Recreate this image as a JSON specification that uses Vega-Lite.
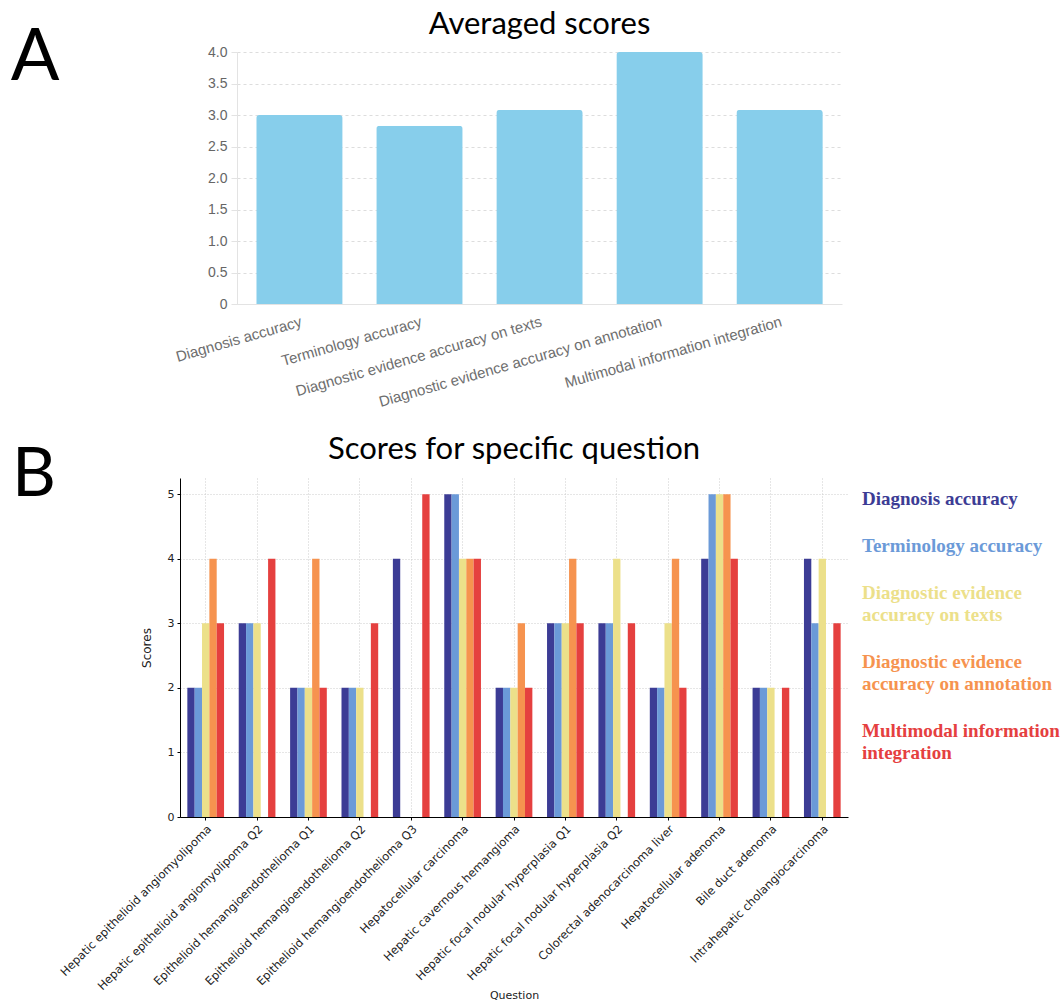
{
  "$schema": "https://vega.github.io/schema/vega-lite/v6.json",
  "background": "white",
  "padding": {"left": 10, "top": 9, "right": 0, "bottom": 0},
  "config": {"view": {"stroke": null}},
  "datasets": {
    "letters": [{"letter": "A"}, {"letter": "B"}],
    "avg": [
      {"metric": "Diagnosis accuracy", "score": 3.0},
      {"metric": "Terminology accuracy", "score": 2.83},
      {"metric": "Diagnostic evidence accuracy on texts", "score": 3.08},
      {"metric": "Diagnostic evidence accuracy on annotation", "score": 4.0},
      {"metric": "Multimodal information integration", "score": 3.08}
    ],
    "q": [
      {"question": "Hepatic epithelioid angiomyolipoma", "metric": "Diagnosis accuracy", "score": 2},
      {"question": "Hepatic epithelioid angiomyolipoma", "metric": "Terminology accuracy", "score": 2},
      {"question": "Hepatic epithelioid angiomyolipoma", "metric": "Diagnostic evidence accuracy on texts", "score": 3},
      {"question": "Hepatic epithelioid angiomyolipoma", "metric": "Diagnostic evidence accuracy on annotation", "score": 4},
      {"question": "Hepatic epithelioid angiomyolipoma", "metric": "Multimodal information integration", "score": 3},
      {"question": "Hepatic epithelioid angiomyolipoma Q2", "metric": "Diagnosis accuracy", "score": 3},
      {"question": "Hepatic epithelioid angiomyolipoma Q2", "metric": "Terminology accuracy", "score": 3},
      {"question": "Hepatic epithelioid angiomyolipoma Q2", "metric": "Diagnostic evidence accuracy on texts", "score": 3},
      {"question": "Hepatic epithelioid angiomyolipoma Q2", "metric": "Diagnostic evidence accuracy on annotation", "score": 0},
      {"question": "Hepatic epithelioid angiomyolipoma Q2", "metric": "Multimodal information integration", "score": 4},
      {"question": "Epithelioid hemangioendothelioma Q1", "metric": "Diagnosis accuracy", "score": 2},
      {"question": "Epithelioid hemangioendothelioma Q1", "metric": "Terminology accuracy", "score": 2},
      {"question": "Epithelioid hemangioendothelioma Q1", "metric": "Diagnostic evidence accuracy on texts", "score": 2},
      {"question": "Epithelioid hemangioendothelioma Q1", "metric": "Diagnostic evidence accuracy on annotation", "score": 4},
      {"question": "Epithelioid hemangioendothelioma Q1", "metric": "Multimodal information integration", "score": 2},
      {"question": "Epithelioid hemangioendothelioma Q2", "metric": "Diagnosis accuracy", "score": 2},
      {"question": "Epithelioid hemangioendothelioma Q2", "metric": "Terminology accuracy", "score": 2},
      {"question": "Epithelioid hemangioendothelioma Q2", "metric": "Diagnostic evidence accuracy on texts", "score": 2},
      {"question": "Epithelioid hemangioendothelioma Q2", "metric": "Diagnostic evidence accuracy on annotation", "score": 0},
      {"question": "Epithelioid hemangioendothelioma Q2", "metric": "Multimodal information integration", "score": 3},
      {"question": "Epithelioid hemangioendothelioma Q3", "metric": "Diagnosis accuracy", "score": 4},
      {"question": "Epithelioid hemangioendothelioma Q3", "metric": "Terminology accuracy", "score": 0},
      {"question": "Epithelioid hemangioendothelioma Q3", "metric": "Diagnostic evidence accuracy on texts", "score": 0},
      {"question": "Epithelioid hemangioendothelioma Q3", "metric": "Diagnostic evidence accuracy on annotation", "score": 0},
      {"question": "Epithelioid hemangioendothelioma Q3", "metric": "Multimodal information integration", "score": 5},
      {"question": "Hepatocellular carcinoma", "metric": "Diagnosis accuracy", "score": 5},
      {"question": "Hepatocellular carcinoma", "metric": "Terminology accuracy", "score": 5},
      {"question": "Hepatocellular carcinoma", "metric": "Diagnostic evidence accuracy on texts", "score": 4},
      {"question": "Hepatocellular carcinoma", "metric": "Diagnostic evidence accuracy on annotation", "score": 4},
      {"question": "Hepatocellular carcinoma", "metric": "Multimodal information integration", "score": 4},
      {"question": "Hepatic cavernous hemangioma", "metric": "Diagnosis accuracy", "score": 2},
      {"question": "Hepatic cavernous hemangioma", "metric": "Terminology accuracy", "score": 2},
      {"question": "Hepatic cavernous hemangioma", "metric": "Diagnostic evidence accuracy on texts", "score": 2},
      {"question": "Hepatic cavernous hemangioma", "metric": "Diagnostic evidence accuracy on annotation", "score": 3},
      {"question": "Hepatic cavernous hemangioma", "metric": "Multimodal information integration", "score": 2},
      {"question": "Hepatic focal nodular hyperplasia Q1", "metric": "Diagnosis accuracy", "score": 3},
      {"question": "Hepatic focal nodular hyperplasia Q1", "metric": "Terminology accuracy", "score": 3},
      {"question": "Hepatic focal nodular hyperplasia Q1", "metric": "Diagnostic evidence accuracy on texts", "score": 3},
      {"question": "Hepatic focal nodular hyperplasia Q1", "metric": "Diagnostic evidence accuracy on annotation", "score": 4},
      {"question": "Hepatic focal nodular hyperplasia Q1", "metric": "Multimodal information integration", "score": 3},
      {"question": "Hepatic focal nodular hyperplasia Q2", "metric": "Diagnosis accuracy", "score": 3},
      {"question": "Hepatic focal nodular hyperplasia Q2", "metric": "Terminology accuracy", "score": 3},
      {"question": "Hepatic focal nodular hyperplasia Q2", "metric": "Diagnostic evidence accuracy on texts", "score": 4},
      {"question": "Hepatic focal nodular hyperplasia Q2", "metric": "Diagnostic evidence accuracy on annotation", "score": 0},
      {"question": "Hepatic focal nodular hyperplasia Q2", "metric": "Multimodal information integration", "score": 3},
      {"question": "Colorectal adenocarcinoma liver", "metric": "Diagnosis accuracy", "score": 2},
      {"question": "Colorectal adenocarcinoma liver", "metric": "Terminology accuracy", "score": 2},
      {"question": "Colorectal adenocarcinoma liver", "metric": "Diagnostic evidence accuracy on texts", "score": 3},
      {"question": "Colorectal adenocarcinoma liver", "metric": "Diagnostic evidence accuracy on annotation", "score": 4},
      {"question": "Colorectal adenocarcinoma liver", "metric": "Multimodal information integration", "score": 2},
      {"question": "Hepatocellular adenoma", "metric": "Diagnosis accuracy", "score": 4},
      {"question": "Hepatocellular adenoma", "metric": "Terminology accuracy", "score": 5},
      {"question": "Hepatocellular adenoma", "metric": "Diagnostic evidence accuracy on texts", "score": 5},
      {"question": "Hepatocellular adenoma", "metric": "Diagnostic evidence accuracy on annotation", "score": 5},
      {"question": "Hepatocellular adenoma", "metric": "Multimodal information integration", "score": 4},
      {"question": "Bile duct adenoma", "metric": "Diagnosis accuracy", "score": 2},
      {"question": "Bile duct adenoma", "metric": "Terminology accuracy", "score": 2},
      {"question": "Bile duct adenoma", "metric": "Diagnostic evidence accuracy on texts", "score": 2},
      {"question": "Bile duct adenoma", "metric": "Diagnostic evidence accuracy on annotation", "score": 0},
      {"question": "Bile duct adenoma", "metric": "Multimodal information integration", "score": 2},
      {"question": "Intrahepatic cholangiocarcinoma", "metric": "Diagnosis accuracy", "score": 4},
      {"question": "Intrahepatic cholangiocarcinoma", "metric": "Terminology accuracy", "score": 3},
      {"question": "Intrahepatic cholangiocarcinoma", "metric": "Diagnostic evidence accuracy on texts", "score": 4},
      {"question": "Intrahepatic cholangiocarcinoma", "metric": "Diagnostic evidence accuracy on annotation", "score": 0},
      {"question": "Intrahepatic cholangiocarcinoma", "metric": "Multimodal information integration", "score": 3}
    ]
  },
  "spacing": 24,
  "resolve": {"legend": {"color": "independent"}},
  "vconcat": [
    {
      "spacing": 113,
      "hconcat": [
        {
          "width": 44,
          "height": 1,
          "data": {"name": "letters"},
          "transform": [{"filter": "datum.letter == 'A'"}],
          "mark": {"type": "text", "font": "Lato", "fontSize": 72, "fontWeight": "normal", "color": "black", "align": "center", "baseline": "alphabetic", "dx": -1, "dy": 27},
          "encoding": {"text": {"field": "letter"}}
        },
        {
          "title": {"text": "Averaged scores", "font": "Lato", "fontSize": 31, "fontWeight": "normal", "color": "black", "offset": 4, "anchor": "middle", "frame": "group"},
          "width": 605,
          "height": 252,
          "data": {"name": "avg"},
          "mark": {"type": "bar", "color": "#87ceeb", "cornerRadiusTopLeft": 3, "cornerRadiusTopRight": 3},
          "encoding": {
            "x": {"field": "metric", "type": "nominal", "sort": null,
              "scale": {"paddingInner": 0.28, "paddingOuter": 0.16},
              "axis": {"title": null, "labelAngle": -16, "labelAlign": "right", "labelBaseline": "top", "labelFont": "Liberation Sans", "labelFontSize": 15, "labelColor": "#6e6e6e", "ticks": false, "domainColor": "#e3e3e3", "labelPadding": 10, "labelLimit": 0}},
            "y": {"field": "score", "type": "quantitative",
              "scale": {"domain": [0, 4], "nice": false},
              "axis": {"title": null, "values": [0, 0.5, 1, 1.5, 2, 2.5, 3, 3.5, 4], "labelExpr": "datum.value == 0 ? '0' : format(datum.value, '.1f')", "gridDash": [3, 3], "gridColor": "#dddddd", "domainColor": "#e3e3e3", "tickColor": "#e3e3e3", "tickSize": 6, "labelFont": "Liberation Sans", "labelFontSize": 14, "labelColor": "#666", "labelPadding": 4}}
          }
        }
      ]
    },
    {
      "spacing": 0,
      "resolve": {"legend": {"color": "independent"}},
      "hconcat": [
        {
          "width": 44,
          "height": 1,
          "data": {"name": "letters"},
          "transform": [{"filter": "datum.letter == 'B'"}],
          "mark": {"type": "text", "font": "Lato", "fontSize": 68, "fontWeight": "normal", "color": "black", "align": "center", "baseline": "alphabetic", "dx": -2, "dy": 17},
          "encoding": {"text": {"field": "letter"}}
        },
        {
          "title": {"text": "Scores for specific question", "font": "Lato", "fontSize": 31, "fontWeight": "normal", "color": "black", "offset": 12, "anchor": "middle", "frame": "group"},
          "width": 668,
          "height": 339,
          "data": {"name": "q"},
          "mark": {"type": "bar"},
          "encoding": {
            "x": {"field": "question", "type": "nominal", "sort": null,
              "scale": {"paddingInner": 0, "paddingOuter": 0},
              "axis": {"title": "Question", "titleFont": "DejaVu Sans", "titleFontSize": 11, "titleFontWeight": "normal", "titleColor": "#222", "titlePadding": -3, "labelAngle": -45, "labelAlign": "right", "labelBaseline": "top", "labelFont": "DejaVu Sans", "labelFontSize": 11.5, "labelColor": "#222", "labelLimit": 0, "labelPadding": 3, "grid": true, "gridDash": [1, 2], "gridColor": "#cccccc", "domainColor": "black", "tickColor": "black", "tickSize": 3}},
            "xOffset": {"field": "metric", "type": "nominal",
              "sort": ["Diagnosis accuracy", "Terminology accuracy", "Diagnostic evidence accuracy on texts", "Diagnostic evidence accuracy on annotation", "Multimodal information integration"],
              "scale": {"paddingInner": 0, "paddingOuter": 2.5}},
            "y": {"field": "score", "type": "quantitative",
              "scale": {"domain": [0, 5.25], "nice": false},
              "axis": {"title": "Scores", "titleFont": "DejaVu Sans", "titleFontSize": 12, "titleFontWeight": "normal", "titleColor": "#222", "titlePadding": 14, "values": [0, 1, 2, 3, 4, 5], "gridDash": [1, 2], "gridColor": "#cccccc", "domainColor": "black", "tickColor": "black", "tickSize": 3, "labelFont": "DejaVu Sans", "labelFontSize": 11, "labelColor": "#222", "labelPadding": 3}},
            "color": {"field": "metric", "type": "nominal",
              "scale": {"domain": ["Diagnosis accuracy", "Terminology accuracy", "Diagnostic evidence accuracy on texts", "Diagnostic evidence accuracy on annotation", "Multimodal information integration"],
                "range": ["#3c3c95", "#6b9ad8", "#ece08a", "#f6934f", "#e5403f"]},
              "legend": {"title": null, "orient": "right", "offset": -16, "padding": 11, "symbolSize": 0, "symbolOpacity": 0, "symbolStrokeWidth": 0, "labelOffset": 0, "labelFont": "Liberation Serif", "labelFontSize": 19, "labelFontWeight": "bold", "labelLimit": 0, "rowPadding": 27,
                "labelExpr": "datum.label == 'Diagnostic evidence accuracy on texts' ? ['Diagnostic evidence', 'accuracy on texts'] : datum.label == 'Diagnostic evidence accuracy on annotation' ? ['Diagnostic evidence', 'accuracy on annotation'] : datum.label == 'Multimodal information integration' ? ['Multimodal information', 'integration'] : datum.label",
                "encode": {"labels": {"update": {"fill": {"scale": "color", "field": "value"}, "lineHeight": {"value": 22}}}}}}
          }
        }
      ]
    }
  ]
}
